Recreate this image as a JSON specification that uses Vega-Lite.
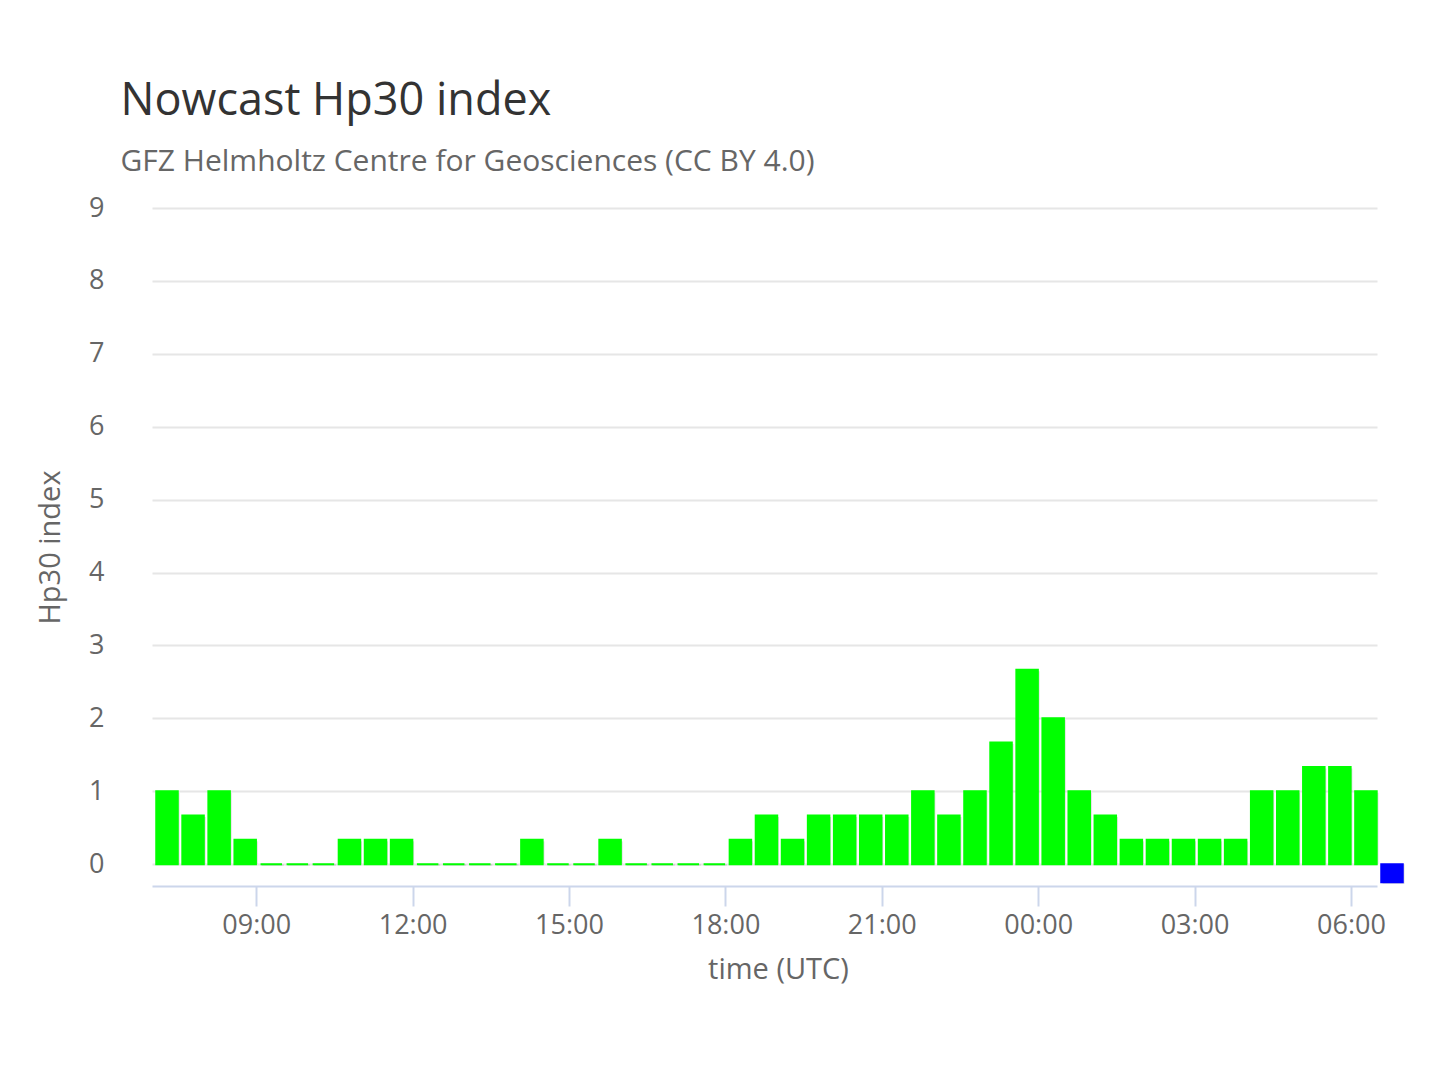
{
  "$schema": "https://vega.github.io/schema/vega-lite/v6.json",
  "width": 1225,
  "height": 678,
  "autosize": "none",
  "padding": {"left": 152, "top": 208, "right": 63, "bottom": 194},
  "background": "white",
  "config": {
    "view": {"stroke": null},
    "font": "Open Sans",
    "title": {"anchor": "start", "dx": 84, "offset": 17, "fontSize": 45, "fontWeight": "normal", "color": "#333333",
      "subtitleFontSize": 30, "subtitleColor": "#666666", "subtitlePadding": 23}
  },
  "title": {"text": "Nowcast Hp30 index", "subtitle": "GFZ Helmholtz Centre for Geosciences (CC BY 4.0)"},
  "data": {
    "values": [
      {"time": "2024-08-05T07:00:00Z", "hp30": 1, "status": "final"},
      {"time": "2024-08-05T07:30:00Z", "hp30": 0.667, "status": "final"},
      {"time": "2024-08-05T08:00:00Z", "hp30": 1, "status": "final"},
      {"time": "2024-08-05T08:30:00Z", "hp30": 0.333, "status": "final"},
      {"time": "2024-08-05T09:00:00Z", "hp30": 0, "status": "final"},
      {"time": "2024-08-05T09:30:00Z", "hp30": 0, "status": "final"},
      {"time": "2024-08-05T10:00:00Z", "hp30": 0, "status": "final"},
      {"time": "2024-08-05T10:30:00Z", "hp30": 0.333, "status": "final"},
      {"time": "2024-08-05T11:00:00Z", "hp30": 0.333, "status": "final"},
      {"time": "2024-08-05T11:30:00Z", "hp30": 0.333, "status": "final"},
      {"time": "2024-08-05T12:00:00Z", "hp30": 0, "status": "final"},
      {"time": "2024-08-05T12:30:00Z", "hp30": 0, "status": "final"},
      {"time": "2024-08-05T13:00:00Z", "hp30": 0, "status": "final"},
      {"time": "2024-08-05T13:30:00Z", "hp30": 0, "status": "final"},
      {"time": "2024-08-05T14:00:00Z", "hp30": 0.333, "status": "final"},
      {"time": "2024-08-05T14:30:00Z", "hp30": 0, "status": "final"},
      {"time": "2024-08-05T15:00:00Z", "hp30": 0, "status": "final"},
      {"time": "2024-08-05T15:30:00Z", "hp30": 0.333, "status": "final"},
      {"time": "2024-08-05T16:00:00Z", "hp30": 0, "status": "final"},
      {"time": "2024-08-05T16:30:00Z", "hp30": 0, "status": "final"},
      {"time": "2024-08-05T17:00:00Z", "hp30": 0, "status": "final"},
      {"time": "2024-08-05T17:30:00Z", "hp30": 0, "status": "final"},
      {"time": "2024-08-05T18:00:00Z", "hp30": 0.333, "status": "final"},
      {"time": "2024-08-05T18:30:00Z", "hp30": 0.667, "status": "final"},
      {"time": "2024-08-05T19:00:00Z", "hp30": 0.333, "status": "final"},
      {"time": "2024-08-05T19:30:00Z", "hp30": 0.667, "status": "final"},
      {"time": "2024-08-05T20:00:00Z", "hp30": 0.667, "status": "final"},
      {"time": "2024-08-05T20:30:00Z", "hp30": 0.667, "status": "final"},
      {"time": "2024-08-05T21:00:00Z", "hp30": 0.667, "status": "final"},
      {"time": "2024-08-05T21:30:00Z", "hp30": 1, "status": "final"},
      {"time": "2024-08-05T22:00:00Z", "hp30": 0.667, "status": "final"},
      {"time": "2024-08-05T22:30:00Z", "hp30": 1, "status": "final"},
      {"time": "2024-08-05T23:00:00Z", "hp30": 1.667, "status": "final"},
      {"time": "2024-08-05T23:30:00Z", "hp30": 2.667, "status": "final"},
      {"time": "2024-08-06T00:00:00Z", "hp30": 2, "status": "final"},
      {"time": "2024-08-06T00:30:00Z", "hp30": 1, "status": "final"},
      {"time": "2024-08-06T01:00:00Z", "hp30": 0.667, "status": "final"},
      {"time": "2024-08-06T01:30:00Z", "hp30": 0.333, "status": "final"},
      {"time": "2024-08-06T02:00:00Z", "hp30": 0.333, "status": "final"},
      {"time": "2024-08-06T02:30:00Z", "hp30": 0.333, "status": "final"},
      {"time": "2024-08-06T03:00:00Z", "hp30": 0.333, "status": "final"},
      {"time": "2024-08-06T03:30:00Z", "hp30": 0.333, "status": "final"},
      {"time": "2024-08-06T04:00:00Z", "hp30": 1, "status": "final"},
      {"time": "2024-08-06T04:30:00Z", "hp30": 1, "status": "final"},
      {"time": "2024-08-06T05:00:00Z", "hp30": 1.333, "status": "final"},
      {"time": "2024-08-06T05:30:00Z", "hp30": 1.333, "status": "final"},
      {"time": "2024-08-06T06:00:00Z", "hp30": 1, "status": "final"},
      {"time": "2024-08-06T06:30:00Z", "hp30": -0.25, "status": "pending"}
    ]
  },
  "encoding": {
    "x": {
      "field": "time", "type": "temporal",
      "scale": {"type": "utc", "padding": 0},
      "axis": {
        "title": "time (UTC)",
        "titleX": 626,
        "tickCount": 8,
        "format": "%H:%M",
        "grid": false,
        "domainColor": "#ccd6eb", "domainWidth": 2,
        "tickColor": "#ccd6eb", "tickWidth": 2, "tickSize": 20,
        "labelFontSize": 27, "labelColor": "#666666", "labelPadding": 6,
        "titleFontSize": 29, "titleColor": "#666666", "titleFontWeight": "normal", "titlePadding": 17
      }
    },
    "y": {
      "field": "hp30", "type": "quantitative",
      "scale": {"domain": [-0.3, 9], "nice": false, "zero": false},
      "axis": {
        "title": "Hp30 index",
        "values": [0, 1, 2, 3, 4, 5, 6, 7, 8, 9],
        "domain": false, "ticks": false,
        "gridColor": "#e6e6e6", "gridWidth": 2,
        "labelFontSize": 27, "labelColor": "#666666", "labelPadding": 48,
        "titleFontSize": 29, "titleColor": "#666666", "titleFontWeight": "normal", "titlePadding": 23
      }
    },
    "y2": {"datum": 0}
  },
  "layer": [
    {
      "mark": {"type": "bar", "width": 22, "xOffset": 16.5, "yOffset": 1.5, "color": "#999999", "opacity": 0.35}
    },
    {
      "mark": {"type": "bar", "width": 21.5, "xOffset": 15, "strokeWidth": 2},
      "encoding": {
        "color": {"field": "status", "type": "nominal", "scale": {"domain": ["final", "pending"], "range": ["#00ff00", "#0000ff"]}, "legend": null},
        "stroke": {"field": "status", "type": "nominal", "scale": {"domain": ["final", "pending"], "range": ["#00ff00", "#0000ff"]}, "legend": null}
      }
    }
  ]
}
